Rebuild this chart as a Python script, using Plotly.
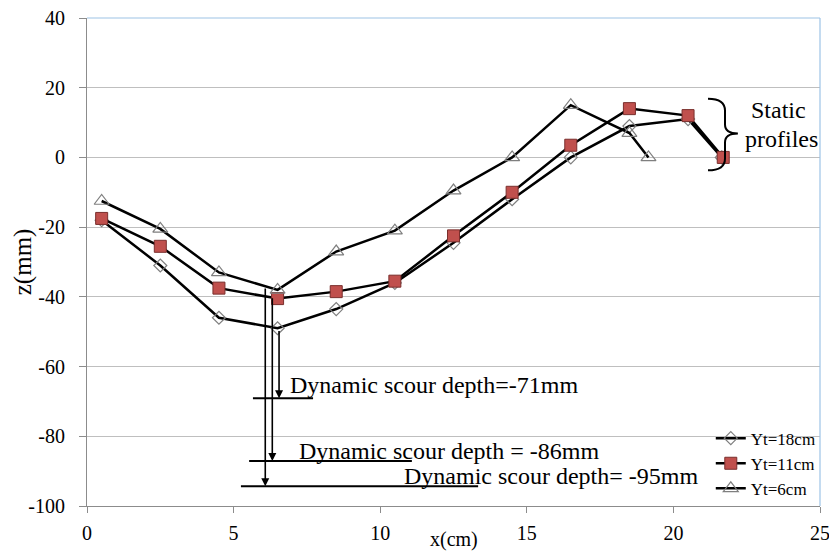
import plotly.graph_objects as go

FONT = "Liberation Serif"

x18 = [0.5, 2.5, 4.5, 6.5, 8.5, 10.5, 12.5, 14.5, 16.5, 18.5, 20.5, 21.65]
z18 = [-18, -31, -46, -49, -43.5, -36, -24.5, -12, 0, 9, 11, 0]

x11 = [0.5, 2.5, 4.5, 6.5, 8.5, 10.5, 12.5, 14.5, 16.5, 18.5, 20.5, 21.7]
z11 = [-17.5, -25.5, -37.5, -40.5, -38.5, -35.5, -22.5, -10, 3.5, 14, 12, 0]

x6 = [0.5, 2.5, 4.5, 6.5, 8.5, 10.5, 12.5, 14.5, 16.5, 18.5, 19.15]
z6 = [-12.5, -20.5, -33, -38, -27, -21, -9.5, 0, 15, 7, 0]

names = ["Yt=18cm", "Yt=11cm", "Yt=6cm"]

x_ticks = [0, 5, 10, 15, 20, 25]
y_ticks = [-100, -80, -60, -40, -20, 0, 20, 40]
y_tick_text = ["-100", "-80", "-60", "-40", "-20", "0", "20", "40"]

# scour annotations: (x of arrow, y start, y tip, horiz x0, horiz x1, text, text x, text y)
scour = [
    (6.55, -49.4, -69.1, 5.66, 7.71, "Dynamic scour depth=-71mm", 6.86, -65.4),
    (6.32, -40.0, -87.1, 5.53, 11.08, "Dynamic scour depth = -86mm", 7.16, -84.3),
    (6.08, -37.2, -94.3, 5.25, 13.34, "Dynamic scour depth= -95mm", 10.74, -91.4),
]

fig = go.Figure()
fig.add_trace(go.Scatter(
    x=x18, y=z18, name=names[0], mode="lines+markers", legendgroup="a",
    line=dict(color="black", width=2.5),
    marker=dict(symbol="diamond-open", size=10, color="#7F7F7F", line=dict(width=1.2, color="#7F7F7F"))))
fig.add_trace(go.Scatter(
    x=x11, y=z11, name=names[1], mode="lines+markers", legendgroup="b",
    line=dict(color="black", width=2.5),
    marker=dict(symbol="square", size=12, color="#C0504D", line=dict(width=1, color="#7A2F2D"))))
fig.add_trace(go.Scatter(
    x=x6, y=z6, name=names[2], mode="lines+markers", legendgroup="c",
    line=dict(color="black", width=2.5),
    marker=dict(symbol="triangle-up-open", size=13, color="#7F7F7F", line=dict(width=1.2, color="#7F7F7F"))))

shapes = []
annotations = []
for xa, y0, y1, hx0, hx1, txt, tx, ty in scour:
    annotations.append(dict(x=xa, y=y1, ax=xa, ay=y0, xref="x", yref="y", axref="x", ayref="y",
                            showarrow=True, arrowhead=2, arrowsize=1, arrowwidth=1.6,
                            arrowcolor="black", text=""))
    shapes.append(dict(type="line", xref="x", yref="y", x0=hx0, x1=hx1, y0=y1, y1=y1,
                       line=dict(color="black", width=2)))
    annotations.append(dict(x=tx, y=ty, xref="x", yref="y", text=txt, showarrow=False,
                            xanchor="left", yanchor="middle",
                            font=dict(family=FONT, size=24, color="black")))

# brace for static profiles
shapes.append(dict(type="path", xref="x", yref="y",
                   path="M 21.18,16.86 Q 21.76,16.86 21.76,13.43 L 21.76,9.43 Q 21.76,6.86 22.2,6.86 "
                        "Q 21.76,6.86 21.76,4.29 L 21.76,-0.29 Q 21.76,-3.71 21.18,-3.71",
                   line=dict(color="black", width=2)))
annotations.append(dict(x=23.57, y=13.7, xref="x", yref="y", text="Static", showarrow=False,
                        xanchor="center", yanchor="middle",
                        font=dict(family=FONT, size=24, color="black")))
annotations.append(dict(x=23.67, y=5.4, xref="x", yref="y", text="profiles", showarrow=False,
                        xanchor="center", yanchor="middle",
                        font=dict(family=FONT, size=24, color="black")))

# axis titles
annotations.append(dict(x=0.5, y=-0.069, xref="paper", yref="paper", text="x(cm)", showarrow=False,
                        xanchor="center", yanchor="middle", font=dict(family=FONT, size=20, color="black")))
annotations.append(dict(x=-0.087, y=0.5, xref="paper", yref="paper", text="z(mm)", showarrow=False,
                        xanchor="center", yanchor="middle",
                        textangle=-90, font=dict(family=FONT, size=25, color="black")))

# frame top/right (light blue)
shapes.append(dict(type="line", xref="paper", yref="paper", x0=0, x1=1, y0=1, y1=1,
                   line=dict(color="#9DC3E6", width=1.2)))
shapes.append(dict(type="line", xref="paper", yref="paper", x0=1, x1=1, y0=0, y1=1,
                   line=dict(color="#9DC3E6", width=1.2)))

fig.update_layout(
    width=829, height=551,
    margin=dict(l=87, r=9, t=18, b=45, autoexpand=False),
    plot_bgcolor="white", paper_bgcolor="white",
    font=dict(family=FONT, size=20, color="black"),
    shapes=shapes, annotations=annotations,
    showlegend=True,
    legend=dict(x=0.851, xanchor="left", y=0.175, yanchor="top", bgcolor="rgba(0,0,0,0)",
                font=dict(family=FONT, size=17, color="black"), tracegroupgap=0,
                itemwidth=30),
    xaxis=dict(range=[0, 25], tickvals=x_ticks, showgrid=False, zeroline=False, automargin=False,
               showline=True, linecolor="#8C8C8C", linewidth=1, ticks="outside", ticklen=6,
               tickcolor="#8C8C8C", ticklabelstandoff=3, ticklabeloverflow="allow",
               tickfont=dict(family=FONT, size=20, color="black")),
    yaxis=dict(range=[-100, 40], tickvals=y_ticks, ticktext=y_tick_text, showgrid=True,
               gridcolor="#BFBFBF", gridwidth=1, zeroline=False, automargin=False,
               showline=True, linecolor="#8C8C8C", linewidth=1, ticks="outside", ticklen=7,
               tickcolor="#8C8C8C", ticklabelstandoff=10, ticklabeloverflow="allow",
               tickfont=dict(family=FONT, size=20, color="black")),
)

fig.write_html("out.html")
